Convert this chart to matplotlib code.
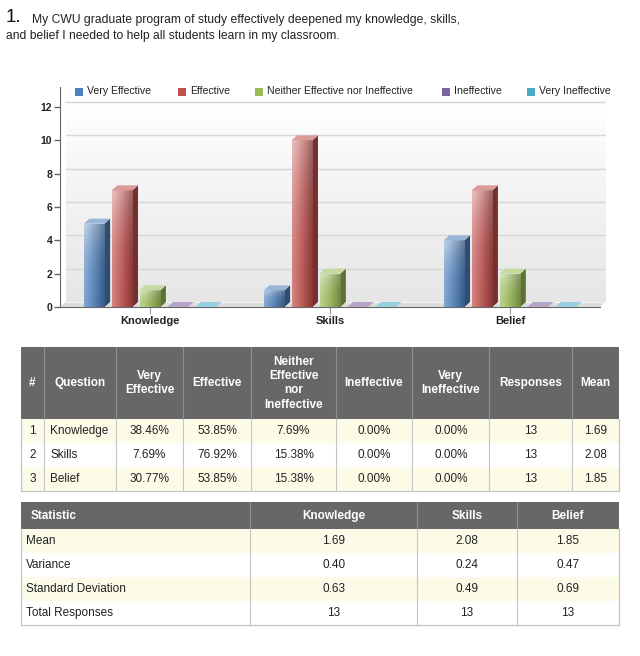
import numpy as np
import matplotlib
matplotlib.use("Agg")
import matplotlib.pyplot as plt
from matplotlib.patches import Polygon, Rectangle
from matplotlib.colors import to_rgb

plt.rcParams['font.family'] = ['Liberation Sans', 'DejaVu Sans']

# ---------------- data ----------------
categories = ["Knowledge", "Skills", "Belief"]
series_names = ["Very Effective", "Effective", "Neither Effective nor Ineffective",
                "Ineffective", "Very Ineffective"]
very_effective = [5, 1, 4]
effective = [7, 10, 7]
neither = [1, 2, 2]
ineffective = [0, 0, 0]
very_ineffective = [0, 0, 0]
series_values = [very_effective, effective, neither, ineffective, very_ineffective]
series_colors = ["#4f81bd", "#c0504d", "#9bbb59", "#8064a2", "#4bacc6"]
y_ticks = [0, 2, 4, 6, 8, 10, 12]

title_number = "1."
title_line1 = "My CWU graduate program of study effectively deepened my knowledge, skills,"
title_line2 = "and belief I needed to help all students learn in my classroom."

table1_header = ["#", "Question", "Very\nEffective", "Effective",
                 "Neither\nEffective\nnor\nIneffective", "Ineffective",
                 "Very\nIneffective", "Responses", "Mean"]
row_ids = ["1", "2", "3"]
pct_very_effective = ["38.46%", "7.69%", "30.77%"]
pct_effective = ["53.85%", "76.92%", "53.85%"]
pct_neither = ["7.69%", "15.38%", "15.38%"]
pct_ineffective = ["0.00%", "0.00%", "0.00%"]
pct_very_ineffective = ["0.00%", "0.00%", "0.00%"]
responses = ["13", "13", "13"]
means = ["1.69", "2.08", "1.85"]

table2_header = ["Statistic", "Knowledge", "Skills", "Belief"]
stat_names = ["Mean", "Variance", "Standard Deviation", "Total Responses"]
stat_knowledge = ["1.69", "0.40", "0.63", "13"]
stat_skills = ["2.08", "0.24", "0.49", "13"]
stat_belief = ["1.85", "0.47", "0.69", "13"]

# ---------------- figure ----------------
W, H = 640, 656
fig = plt.figure(figsize=(W / 100, H / 100), dpi=100)
fig.patch.set_facecolor("white")


def px_axes(l, t, r, b):
    return [l / W, 1 - b / H, (r - l) / W, (b - t) / H]


def mix_white(c, a):
    c = np.array(to_rgb(c))
    return c * (1 - a) + a


# ---------------- chart ----------------
ax = fig.add_axes(px_axes(60, 87, 606, 307))
DX, DY = 0.031, 0.3
BAR_W, STEP = 0.115, 0.155
X_RIGHT = 2.5 + DX + 0.003
Y_TOP = 13.2
WALL_TOP = 12.35

# back wall gradient
g = np.linspace(0, 1, 256)[:, None, None]
top_c = np.array(to_rgb("#ffffff"))
bot_c = np.array(to_rgb("#e6e6e6"))
wall = top_c * (1 - g) + bot_c * g
ax.imshow(wall, extent=(-0.5 + DX, 2.5 + DX, DY, WALL_TOP), origin="upper",
          aspect="auto", interpolation="bilinear", zorder=0)
# floor
ax.add_patch(Polygon([(-0.5, 0), (2.5, 0), (2.5 + DX, DY), (-0.5 + DX, DY)],
                     closed=True, fc="#dcdcdc", ec="none", zorder=1))
ax.plot([-0.5 + DX, 2.5 + DX], [DY, DY], color="#f4f4f4", lw=0.8, zorder=1.1)
# gridlines on the back wall
for t in y_ticks[1:]:
    ax.plot([-0.5 + DX, 2.5 + DX], [t + DY, t + DY], color="#d6d6d6", lw=1, zorder=1)


def front_gradient(c, n=64):
    c = np.array(to_rgb(c))
    xs = np.linspace(0, 1, n)[None, :]
    ys = np.linspace(0, 1, n)[:, None]
    light = 0.30 * (1 - xs) ** 1.5 + 0.36 * ys ** 2.5
    light = np.clip(light, 0, 0.6)
    shade = 1 - 0.30 * xs ** 2
    rgb = (c[None, None, :] * (1 - light[..., None]) + light[..., None]) * shade[..., None]
    return np.clip(rgb, 0, 1)


x = np.arange(len(categories))
for j, (vals, col) in enumerate(zip(series_values, series_colors)):
    offs = (j - 2) * STEP
    bars = ax.bar(x + offs, vals, width=BAR_W, color=col, linewidth=0, zorder=3)
    c = np.array(to_rgb(col))
    grad = front_gradient(col)
    for b in bars:
        x0 = b.get_x()
        x1 = x0 + b.get_width()
        h = b.get_height()
        ax.add_patch(Polygon([(x1, 0), (x1 + DX, DY), (x1 + DX, h + DY), (x1, h)],
                             closed=True, fc=c * 0.6, ec="none", zorder=2.9))
        ax.add_patch(Polygon([(x0, h), (x1, h), (x1 + DX, h + DY), (x0 + DX, h + DY)],
                             closed=True, fc=mix_white(col, 0.42), ec="none", zorder=3.2))
        if h > 0:
            im = ax.imshow(grad, extent=(x0, x1, 0, h), origin="lower", aspect="auto",
                           interpolation="bilinear", zorder=3.05)
            im.set_clip_path(b)

ax.set_xlim(-0.5, X_RIGHT)
ax.set_ylim(0, Y_TOP)
ax.set_facecolor("white")
for s in ["top", "right"]:
    ax.spines[s].set_visible(False)
ax.spines["left"].set_color("#666666")
ax.spines["bottom"].set_color("#666666")
ax.spines["bottom"].set_bounds(-0.5, 2.5)
ax.set_yticks(y_ticks)
ax.set_yticklabels([str(t) for t in y_ticks], fontweight="bold", fontsize=7.5, color="#222222")
ax.tick_params(axis="y", length=4, width=1, color="#666666", pad=1.5)
ax.set_xticks(x)
ax.set_xticklabels(categories, fontweight="bold", fontsize=8, color="#222222")
ax.tick_params(axis="x", length=5, width=0.8, color="#999999", pad=1.5)

# ---------------- overlay for texts / tables ----------------
tax = fig.add_axes([0, 0, 1, 1])
tax.set_xlim(0, W)
tax.set_ylim(H, 0)
tax.axis("off")
tax.patch.set_alpha(0)

# title
tax.text(6, 18, title_number, fontsize=13.5, va="center", ha="left", color="#111111")
tax.text(32, 19.5, title_line1, fontsize=8.7, va="center", ha="left", color="#222222")
tax.text(6, 35.5, title_line2, fontsize=8.7, va="center", ha="left", color="#222222")

# legend
leg_sq_x = [75, 178, 255, 442, 527]
for name, col, sx in zip(series_names, series_colors, leg_sq_x):
    tax.add_patch(Rectangle((sx, 87.5), 8, 8, fc=col, ec="none"))
    tax.text(sx + 12, 91.5, name, fontsize=7.6, va="center", ha="left", color="#222222")

HEAD_BG = "#676767"
HEAD_SEP = "#8f8f8f"
CREAM = "#fcfbe8"
LINE = "#c4c4c4"
BODY_FS = 8.5

# ---- table 1 ----
t1_x = [20.7, 44.3, 115.7, 183.3, 251.3, 335.7, 412.3, 489.3, 571.7, 619.3]
t1_top, t1_hbot, row_h = 347.3, 419.0, 24.0
n_rows = len(row_ids)
t1_bot = t1_hbot + n_rows * row_h
tax.add_patch(Rectangle((t1_x[0], t1_top), t1_x[-1] - t1_x[0], t1_hbot - t1_top,
                        fc=HEAD_BG, ec="none"))
for i in range(n_rows):
    fc = CREAM if i % 2 == 0 else "white"
    tax.add_patch(Rectangle((t1_x[0], t1_hbot + i * row_h), t1_x[-1] - t1_x[0], row_h,
                            fc=fc, ec="none"))
for xe in t1_x[1:-1]:
    tax.plot([xe, xe], [t1_top, t1_hbot], color=HEAD_SEP, lw=0.8)
    tax.plot([xe, xe], [t1_hbot, t1_bot], color=LINE, lw=0.8)
tax.plot([t1_x[0], t1_x[0], t1_x[-1], t1_x[-1]], [t1_hbot, t1_bot, t1_bot, t1_hbot],
         color=LINE, lw=0.9)
hy = (t1_top + t1_hbot) / 2
for k, lab in enumerate(table1_header):
    cx = (t1_x[k] + t1_x[k + 1]) / 2
    tax.text(cx, hy, lab, fontsize=BODY_FS, fontweight="bold", color="white",
             ha="center", va="center", linespacing=1.25)
t1_cols = [row_ids, categories, pct_very_effective, pct_effective, pct_neither,
           pct_ineffective, pct_very_ineffective, responses, means]
for k, colvals in enumerate(t1_cols):
    for i, v in enumerate(colvals):
        cy = t1_hbot + (i + 0.5) * row_h
        if k == 1:
            tax.text(t1_x[k] + 6, cy, v, fontsize=BODY_FS, color="#222222", ha="left", va="center")
        else:
            cx = (t1_x[k] + t1_x[k + 1]) / 2
            tax.text(cx, cy, v, fontsize=BODY_FS, color="#222222", ha="center", va="center")

# ---- table 2 ----
t2_x = [20.7, 250.3, 417.3, 516.7, 619.3]
t2_top, t2_hbot = 502.3, 529.0
n2 = len(stat_names)
t2_bot = t2_hbot + n2 * row_h
tax.add_patch(Rectangle((t2_x[0], t2_top), t2_x[-1] - t2_x[0], t2_hbot - t2_top,
                        fc=HEAD_BG, ec="none"))
for i in range(n2):
    fc = CREAM if i % 2 == 0 else "white"
    tax.add_patch(Rectangle((t2_x[0], t2_hbot + i * row_h), t2_x[-1] - t2_x[0], row_h,
                            fc=fc, ec="none"))
for xe in t2_x[1:-1]:
    tax.plot([xe, xe], [t2_top, t2_hbot], color=HEAD_SEP, lw=0.8)
    tax.plot([xe, xe], [t2_hbot, t2_bot], color=LINE, lw=0.8)
tax.plot([t2_x[0], t2_x[0], t2_x[-1], t2_x[-1]], [t2_hbot, t2_bot, t2_bot, t2_hbot],
         color=LINE, lw=0.9)
hy2 = (t2_top + t2_hbot) / 2
for k, lab in enumerate(table2_header):
    if k == 0:
        tax.text(t2_x[0] + 9.5, hy2, lab, fontsize=BODY_FS, fontweight="bold", color="white",
                 ha="left", va="center")
    else:
        tax.text((t2_x[k] + t2_x[k + 1]) / 2, hy2, lab, fontsize=BODY_FS, fontweight="bold",
                 color="white", ha="center", va="center")
t2_cols = [stat_names, stat_knowledge, stat_skills, stat_belief]
for k, colvals in enumerate(t2_cols):
    for i, v in enumerate(colvals):
        cy = t2_hbot + (i + 0.5) * row_h
        if k == 0:
            tax.text(t2_x[0] + 5.5, cy, v, fontsize=BODY_FS, color="#222222", ha="left", va="center")
        else:
            tax.text((t2_x[k] + t2_x[k + 1]) / 2, cy, v, fontsize=BODY_FS, color="#222222",
                     ha="center", va="center")

fig.savefig("out.png", dpi=100, facecolor="white")
